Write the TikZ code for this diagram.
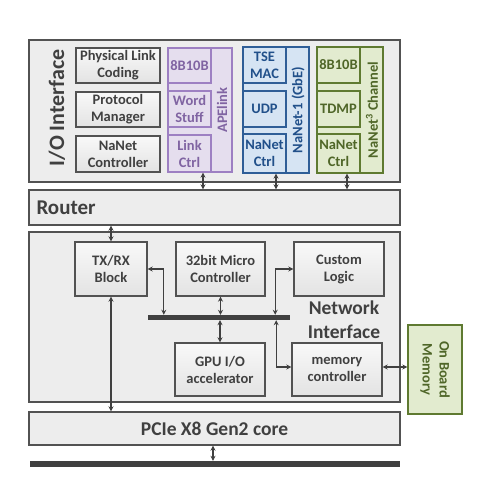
\documentclass[tikz,border=0pt]{standalone}
\usepackage{fontspec}
\setmainfont{Carlito}
\usepackage{tikz}
\usetikzlibrary{arrows.meta, shadows}
\definecolor{txtgray}{HTML}{404040}
\definecolor{linegray}{HTML}{525252}
\definecolor{apefill}{HTML}{E5DEEE}
\definecolor{apeline}{HTML}{9D80C2}
\definecolor{apetext}{HTML}{8064A2}
\definecolor{gbefill}{HTML}{D6E4F3}
\definecolor{gbeline}{HTML}{2F5E97}
\definecolor{gbetext}{HTML}{21508A}
\definecolor{chfill}{HTML}{E2EBCF}
\definecolor{chline}{HTML}{5F7A31}
\definecolor{chtext}{HTML}{4F6628}

\begin{document}
\begin{tikzpicture}[
  x=1pt, y=-1pt,
  outer/.style={
    draw=linegray, line width=1.4pt, fill=gray!14, inner sep=0pt,
    drop shadow={shadow xshift=1.2pt, shadow yshift=-1.2pt, opacity=0.25}
  },
  block/.style={
    draw=linegray, line width=1.4pt, top color=gray!5, bottom color=gray!22,
    text=txtgray, align=center, inner sep=0pt,
    font=\fontsize{14.5}{17}\selectfont\bfseries,
    drop shadow={shadow xshift=1.2pt, shadow yshift=-1.2pt, opacity=0.25}
  },
  big/.style={text=txtgray, font=\fontsize{21}{24}\selectfont\bfseries},
  ape/.style={
    draw=apeline, fill=apefill, text=apetext, line width=1.3pt,
    align=center, inner sep=0pt, font=\fontsize{14.5}{17}\selectfont\bfseries
  },
  gbe/.style={
    draw=gbeline, fill=gbefill, text=gbetext, line width=1.3pt,
    align=center, inner sep=0pt, font=\fontsize{14.5}{17}\selectfont\bfseries
  },
  chan/.style={
    draw=chline, fill=chfill, text=chtext, line width=1.3pt,
    align=center, inner sep=0pt, font=\fontsize{14.5}{17}\selectfont\bfseries
  },
  lbl/.style={draw=none, fill=none},
  biarr/.style={{Stealth[length=5pt,width=5pt]}-{Stealth[length=5pt,width=5pt]},
    line width=1.3pt, draw=txtgray},
]
\useasboundingbox (0,0) rectangle (479,483);

%% ---- Outer layers ----
\node[outer, minimum width=371, minimum height=142] (io)     at (214.5,111)   {};
\node[outer, minimum width=371, minimum height=35]  (router) at (214.5,207.5) {};
\node[outer, minimum width=371, minimum height=170] (ni)     at (214.5,317)   {};
\node[outer, minimum width=371, minimum height=33, text=txtgray,
      font=\fontsize{19.5}{22}\selectfont\bfseries] (pcie) at (214.5,428.5) {PCIe X8 Gen2 core};
\node[fill=txtgray, inner sep=0pt, minimum width=370, minimum height=6] (hostbus) at (215,464) {};

\node[big, rotate=90, font=\fontsize{22}{24}\selectfont\bfseries] (iolbl) at (57,108) {I/O Interface};
\node[big, anchor=west] (routerlbl) at (33,208) {Router};
\node[big, align=center, font=\fontsize{19.5}{24}\selectfont\bfseries] (nilbl) at (344,320) {Network\\Interface};

%% ---- I/O Interface: generic blocks ----
\node[block, minimum width=84, minimum height=35] (plc) at (118,65.5) {Physical Link\\Coding};
\node[block, minimum width=84, minimum height=35] (pm)  at (118,109.5) {Protocol\\Manager};
\node[block, minimum width=84, minimum height=36] (nc)  at (118,154) {NaNet\\Controller};

%% ---- APElink ----
\node[ape, minimum width=64, minimum height=124] (apel) at (200,110) {};
\node[ape, lbl, rotate=90] (apelbl) at (222,110) {APElink};
\node[ape, minimum width=43, minimum height=35] (a8b) at (189.5,65.5) {8B10B};
\node[ape, minimum width=43, minimum height=36] (aws) at (189.5,109)  {Word\\Stuff};
\node[ape, minimum width=43, minimum height=37] (alc) at (189.5,153.5) {Link\\Ctrl};

%% ---- NaNet-1 (GbE) ----
\node[gbe, minimum width=66, minimum height=126] (gbel) at (276,110) {};
\node[gbe, lbl, rotate=90] (gbelbl) at (298,110) {NaNet-1 (GbE)};
\node[gbe, minimum width=43, minimum height=36] (tse) at (264.5,65)    {TSE\\MAC};
\node[gbe, minimum width=43, minimum height=36] (udp) at (264.5,109)   {UDP};
\node[gbe, minimum width=43, minimum height=39] (gnc) at (264.5,153.5) {NaNet\\Ctrl};

%% ---- NaNet^3 Channel ----
\node[chan, minimum width=66, minimum height=126] (chl) at (350,110) {};
\node[chan, lbl, rotate=90] (chlbl) at (372,110) {NaNet\textsuperscript{3} Channel};
\node[chan, minimum width=43, minimum height=36] (c8b)  at (338.5,65)    {8B10B};
\node[chan, minimum width=43, minimum height=36] (tdmp) at (338.5,109)   {TDMP};
\node[chan, minimum width=43, minimum height=39] (cnc)  at (338.5,153.5) {NaNet\\Ctrl};

%% ---- Network Interface ----
\node[block, minimum width=72, minimum height=54] (txrx) at (111,269)   {TX/RX\\Block};
\node[block, minimum width=89, minimum height=54] (mc)   at (220.5,269) {32bit Micro\\Controller};
\node[block, minimum width=90, minimum height=54] (cl)   at (339,269)   {Custom\\Logic};
\node[fill=txtgray, inner sep=0pt, minimum width=142, minimum height=5] (bus) at (219,317.5) {};
\node[block, minimum width=90, minimum height=53] (gpu)  at (220,369.5) {GPU I/O\\accelerator};
\node[block, minimum width=90, minimum height=53] (memc) at (337,369.5) {memory\\controller};

%% ---- On Board Memory ----
\node[chan, minimum width=54, minimum height=89] (obm) at (435,369.5) {};
\node[chan, lbl, rotate=-90] (obmlbl) at (435,369.5) {On Board\\Memory};

%% ---- Links to router ----
\draw[biarr] ([xshift=13.5pt]alc.south) -- ([xshift=13.5pt]alc.south |- router.north);
\draw[biarr] ([xshift=11.5pt]gnc.south) -- ([xshift=11.5pt]gnc.south |- router.north);
\draw[biarr] ([xshift=8.5pt]cnc.south)  -- ([xshift=8.5pt]cnc.south |- router.north);
\draw[biarr] (txrx.north) -- (txrx.north |- router.south);

%% ---- Internal bus ----
\draw[biarr] (txrx.east) -| ([xshift=16pt]bus.north west);
\draw[biarr] (mc.south) -- (mc.south |- bus.north);
\draw[biarr] (cl.west) -| ([xshift=-15pt]bus.north east);
\draw[biarr] (gpu.north) -- (gpu.north |- bus.south);
\draw[biarr] ([yshift=2.5pt]memc.west) -| ([xshift=-14pt]bus.south east);
\draw[biarr] ([yshift=2.5pt]memc.east) -- ([yshift=2.5pt]memc.east -| obm.west);

%% ---- PCIe ----
\draw[biarr] (txrx.south) -- (txrx.south |- pcie.north);
\draw[biarr] ([xshift=-1.5pt]pcie.south) -- ([xshift=-1.5pt]pcie.south |- hostbus.north);

\end{tikzpicture}
\end{document}
